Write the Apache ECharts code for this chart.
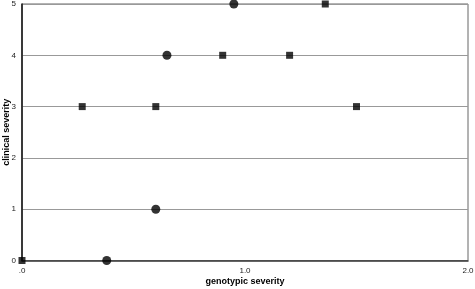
<!DOCTYPE html>
<html>
<head>
<meta charset="utf-8">
<script src="https://cdn.jsdelivr.net/npm/echarts@6/dist/echarts.min.js"></script>
<style>
  html, body { margin: 0; padding: 0; background: #fff; }
  #chart { width: 475px; height: 289px; }
</style>
</head>
<body>
<div id="chart"></div>
<script>
// points: [genotypic, clinical]
const squarePoints = [[0, 0], [0.27, 3], [0.6, 3], [0.9, 4], [1.2, 4], [1.36, 5], [1.5, 3]]
const circlePoints = [[0.38, 0], [0.6, 1], [0.65, 4], [0.95, 5]]
const xTickLabels = { 0: '.0', 1: '1.0', 2: '2.0' }

const font = '"Liberation Sans", Arial, sans-serif'

const chart = echarts.init(document.getElementById('chart'), null, { renderer: 'canvas' })
chart.setOption({
  backgroundColor: '#fff',
  animation: false,
  grid: {
    left: 22, right: 7, top: 4, bottom: 28.5,
    containLabel: false, outerBoundsMode: 'none',
    show: true, borderColor: '#666', borderWidth: 1,
  },
  xAxis: {
    type: 'value',
    min: 0,
    max: 2,
    interval: 1,
    name: 'genotypic severity',
    nameLocation: 'middle',
    nameGap: 17,
    nameMoveOverlap: false,
    nameTextStyle: { fontFamily: font, fontSize: 9, fontWeight: 'bold', color: '#000' },
    axisLine: { show: true, lineStyle: { color: '#333', width: 1.5 } },
    axisTick: { show: false },
    splitLine: { show: false },
    axisLabel: {
      margin: 6,
      fontFamily: font,
      fontSize: 8,
      color: '#222',
      formatter: v => xTickLabels[v] ?? '',
    },
  },
  yAxis: {
    type: 'value',
    min: 0,
    max: 5,
    interval: 1,
    name: 'clinical severity',
    nameLocation: 'middle',
    nameGap: 11,
    nameMoveOverlap: false,
    nameTextStyle: { fontFamily: font, fontSize: 9, fontWeight: 'bold', color: '#000' },
    axisLine: { show: true, lineStyle: { color: '#111', width: 1.5 } },
    axisTick: { show: false },
    splitLine: { show: true, lineStyle: { color: '#999', width: 1 } },
    axisLabel: { margin: 6, fontFamily: font, fontSize: 8, color: '#222' },
  },
  series: [
    {
      name: 'squares',
      type: 'scatter',
      data: squarePoints,
      symbol: 'rect',
      symbolSize: 7,
      itemStyle: { color: '#000' },
    },
    {
      name: 'circles',
      type: 'scatter',
      data: circlePoints,
      symbol: 'circle',
      symbolSize: 9,
      itemStyle: { color: '#000' },
    },
  ],
})
</script>
</body>
</html>
